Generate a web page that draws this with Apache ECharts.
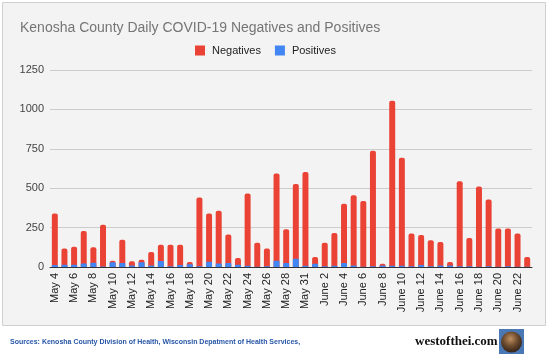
<!DOCTYPE html>
<html>
<head>
<meta charset="utf-8">
<script src="https://cdn.jsdelivr.net/npm/echarts@6/dist/echarts.min.js"></script>
<style>
  html, body { margin: 0; padding: 0; background: #fff; }
  #chart { width: 550px; height: 354px; }
</style>
</head>
<body>
<div id="chart"></div>
<script>
// daily values, May 4 - June 23 (no May 30 entry)
const dates = [
  "May 4", "May 5", "May 6", "May 7", "May 8", "May 9", "May 10", "May 11", "May 12", "May 13",
  "May 14", "May 15", "May 16", "May 17", "May 18", "May 19", "May 20", "May 21", "May 22", "May 23",
  "May 24", "May 25", "May 26", "May 27", "May 28", "May 29", "May 31", "June 1", "June 2", "June 3",
  "June 4", "June 5", "June 6", "June 7", "June 8", "June 9", "June 10", "June 11", "June 12", "June 13",
  "June 14", "June 15", "June 16", "June 17", "June 18", "June 19", "June 20", "June 21", "June 22", "June 23"
];
const negatives = [
  340, 118, 129, 228, 125, 268, 40, 173, 36, 46,
  95, 141, 141, 141, 32, 441, 340, 357, 207, 57,
  466, 154, 118, 593, 240, 527, 603, 63, 154, 215,
  401, 456, 418, 738, 21, 1055, 694, 213, 203, 169,
  158, 32, 544, 184, 511, 428, 245, 245, 213, 63
];
const positives = [
  12, 15, 15, 23, 27, 3, 30, 25, 10, 30,
  10, 38, 5, 13, 17, 5, 34, 23, 25, 15,
  8, 2, 4, 40, 25, 53, 8, 21, 4, 8,
  25, 10, 2, 4, 10, 8, 8, 4, 13, 4,
  10, 10, 4, 4, 2, 4, 2, 4, 2, 1
];
const yTicks = [0, 250, 500, 750, 1000, 1250];

const chart = echarts.init(document.getElementById('chart'));
chart.setOption({
  animation: false,
  textStyle: { fontFamily: 'Liberation Sans, Arial, sans-serif' },
  graphic: [
    {
      type: 'rect', z: -10, silent: true,
      shape: { x: 2.5, y: 2.5, width: 543, height: 323 },
      style: { fill: '#f3f3f3', stroke: '#cfcfcf', lineWidth: 1 }
    },
    {
      type: 'text', left: 10, top: 339,
      style: {
        text: 'Sources: Kenosha County Division of Health, Wisconsin Depatment of Health Services,',
        fill: '#2756a6', font: 'bold 7px Liberation Sans, Arial, sans-serif'
      }
    },
    {
      type: 'text', left: 415, top: 335,
      style: {
        text: 'westofthei.com',
        fill: '#111', font: 'bold 13px Liberation Serif, Times New Roman, serif'
      }
    },
    {
      type: 'rect', silent: true,
      shape: { x: 499, y: 329, width: 25, height: 25 },
      style: { fill: '#4a78b5' }
    },
    {
      type: 'circle', silent: true,
      shape: { cx: 511.5, cy: 342, r: 10.5 },
      style: {
        fill: new echarts.graphic.RadialGradient(0.45, 0.35, 0.7, [
          { offset: 0, color: '#c09060' },
          { offset: 0.5, color: '#6b4a2e' },
          { offset: 1, color: '#2a1d14' }
        ])
      }
    }
  ],
  title: {
    text: 'Kenosha County Daily COVID-19 Negatives and Positives',
    left: 15, top: 16,
    textStyle: { fontSize: 14, fontWeight: 'normal', color: '#757575' }
  },
  legend: {
    top: 40, left: 190,
    itemWidth: 10, itemHeight: 10, itemGap: 14,
    icon: 'rect',
    textStyle: { fontSize: 11, color: '#222', padding: [0, 0, 0, 2] },
    data: ['Negatives', 'Positives']
  },
  grid: { left: 50, right: 18, top: 70, bottom: 87 },
  xAxis: {
    type: 'category',
    data: dates,
    axisLine: { lineStyle: { color: '#333' } },
    axisTick: { show: false },
    axisLabel: { rotate: 90, interval: 1, fontSize: 11, color: '#222', margin: 6 }
  },
  yAxis: {
    type: 'value',
    min: yTicks[0], max: yTicks[yTicks.length - 1], interval: 250,
    axisLine: { show: false },
    axisTick: { show: false },
    axisLabel: { fontSize: 11, color: '#444', margin: 6, formatter: v => String(v) },
    splitLine: { lineStyle: { color: '#cccccc' } }
  },
  series: [
    {
      name: 'Negatives', type: 'bar', data: negatives,
      barWidth: '62%', barGap: '-100%',
      itemStyle: { color: '#ea4335', borderRadius: [2, 2, 0, 0] }
    },
    {
      name: 'Positives', type: 'bar', data: positives,
      barWidth: '62%',
      itemStyle: { color: '#4285f4', borderRadius: [1, 1, 0, 0] }
    }
  ]
});
</script>
</body>
</html>
